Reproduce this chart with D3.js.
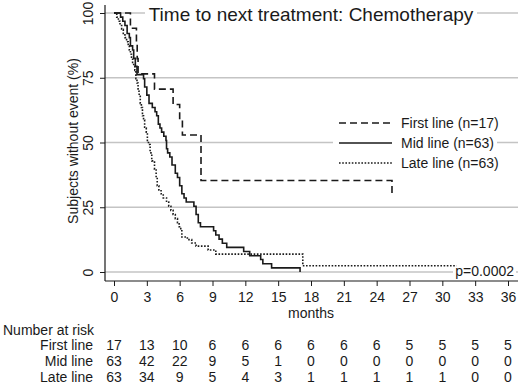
<!DOCTYPE html>
<html>
<head>
<meta charset="utf-8">
<script src="https://cdn.jsdelivr.net/npm/d3@7/dist/d3.min.js"></script>
<style>
  html, body { margin: 0; padding: 0; background: #fff; }
  svg { display: block; font-family: "Liberation Sans", Arial, Helvetica, sans-serif; }
</style>
</head>
<body>
<svg id="chart" width="520" height="385"></svg>
<script>
// ---- data ----
const titleText = "Time to next treatment: Chemotherapy";
const xTicks = [0, 3, 6, 9, 12, 15, 18, 21, 24, 27, 30, 33, 36];
const yTicks = [0, 25, 50, 75, 100];
const seriesNames = ["First line (n=17)", "Mid line (n=63)", "Late line (n=63)"];
const riskLabels = ["First line", "Mid line", "Late line"];
const riskFirst = [17, 13, 10, 6, 6, 6, 6, 6, 6, 5, 5, 5, 5];
const riskMid   = [63, 42, 22, 9, 5, 1, 0, 0, 0, 0, 0, 0, 0];
const riskLate  = [63, 34, 9, 5, 4, 3, 1, 1, 1, 1, 1, 0, 0];
const pValue = "p=0.0002";

// KM steps: [months, % without event]
const firstLine = [[0,100],[1.5,94.1],[2.05,88.2],[2.12,82.4],[2.2,76.5],[3.7,70.6],[5.4,64.7],[6.0,58.8],[6.25,52.9],[7.95,35.3],[25.4,29.4]];
const midLine = [[0,100],[0.6,98.4],[0.8,96.8],[1.0,95.2],[1.2,92.1],[1.4,90.5],[1.5,87.3],[1.7,85.7],[1.8,82.5],[1.95,79.4],[2.1,76.2],
  [2.7,74.6],[2.8,71.4],[3.0,68.3],[3.2,65.1],[3.5,63.5],[3.75,61.9],[3.9,60.3],[4.05,57.1],[4.2,55.6],[4.35,54.0],[4.55,52.4],[4.75,50.8],
  [4.8,47.6],[4.9,46.0],[5.1,44.4],[5.3,41.3],[5.6,38.1],[5.8,36.5],[6.0,33.3],[6.2,30.2],[6.4,28.6],[6.6,27.0],[7.3,25.4],[7.5,22.2],
  [7.7,19.0],[7.9,17.5],[9.1,15.9],[9.3,14.3],[9.6,12.7],[9.9,11.1],[10.3,9.5],[11.85,7.9],[12.4,6.3],[13.4,4.8],[13.6,3.2],[14.4,1.6],[17.0,0]];
const lateLine = [[0,100],[0.25,98.4],[0.4,96.8],[0.55,95.2],[0.7,93.7],[0.85,92.1],[1.0,90.5],[1.15,88.9],[1.3,87.3],[1.4,85.7],[1.5,84.1],
  [1.6,82.5],[1.7,80.9],[1.8,79.4],[1.9,77.8],[2.0,74.6],[2.1,73.0],[2.2,69.8],[2.3,68.3],[2.4,65.1],[2.5,63.5],[2.6,60.3],[2.7,58.7],
  [2.8,55.6],[2.95,54.0],[3.05,50.8],[3.15,49.2],[3.3,46.0],[3.45,42.9],[3.7,39.7],[3.85,36.5],[3.95,33.3],[4.1,31.7],[4.3,30.2],
  [4.5,28.6],[4.8,27.0],[5.0,25.4],[5.2,23.8],[5.4,22.2],[5.6,20.6],[5.8,19.0],[5.95,17.5],[6.1,15.9],[6.2,13.5],[6.7,12.5],[7.1,11.2],
  [7.5,10.0],[8.6,8.5],[9.3,6.9],[17.25,2.4],[31.3,2.4]];

// ---- layout ----
const svg = d3.select("#chart");
const x = d3.scaleLinear().domain([0, 36]).range([114, 508]);
const y = d3.scaleLinear().domain([0, 100]).range([272, 13]);
const axisLeftX = 105, axisBottomY = 281, plotRight = 518;
const ink = "#1a1a1a";

// gridlines
svg.append("g").selectAll("line").data(yTicks).join("line")
  .attr("x1", axisLeftX).attr("x2", plotRight)
  .attr("y1", d => y(d)).attr("y2", d => y(d))
  .attr("stroke", "#c4c4c4").attr("stroke-width", 1.5);

// white boxes (title, legend, p-value)
svg.append("rect").attr("x", 145).attr("y", 2).attr("width", 332).attr("height", 24).attr("fill", "#fff");
svg.append("rect").attr("x", 333).attr("y", 110).attr("width", 164).attr("height", 64).attr("fill", "#fff");
svg.append("rect").attr("x", 453).attr("y", 262).attr("width", 63).attr("height", 18).attr("fill", "#fff");

// axes
const yAxis = d3.axisLeft(y).tickValues(yTicks).tickSize(5).tickPadding(7);
const gy = svg.append("g").attr("transform", `translate(${axisLeftX},0)`).call(yAxis);
gy.select(".domain").attr("d", `M0,5V${axisBottomY}`).attr("stroke", ink).attr("stroke-width", 1.2);
gy.selectAll(".tick line").attr("stroke", ink);
gy.selectAll(".tick text").attr("font-size", 14).attr("fill", ink)
  .attr("transform", "rotate(-90)").attr("text-anchor", "middle")
  .attr("x", 0).attr("y", -12).attr("dy", 0);
gy.selectAll(".tick").each(function(d) {
  d3.select(this).select("text").attr("transform", `rotate(-90)`).attr("x", 0).attr("y", -12);
});

const xAxis = d3.axisBottom(x).tickValues(xTicks).tickSize(5).tickPadding(6);
const gx = svg.append("g").attr("transform", `translate(0,${axisBottomY})`).call(xAxis);
gx.select(".domain").attr("d", `M${axisLeftX},0H${plotRight}`).attr("stroke", ink).attr("stroke-width", 1.2);
gx.selectAll(".tick line").attr("stroke", ink);
gx.selectAll(".tick text").attr("font-size", 14).attr("fill", ink).attr("dy", "0.71em");
gy.attr("font-family", null); gx.attr("font-family", null);

// axis titles
svg.append("text").attr("transform", "translate(78,141) rotate(-90)").attr("text-anchor", "middle")
  .attr("font-size", 14).attr("fill", ink).text("Subjects without event (%)");
svg.append("text").attr("x", 311).attr("y", 318).attr("text-anchor", "middle")
  .attr("font-size", 14).attr("fill", ink).text("months");

// title
svg.append("text").attr("x", 311).attr("y", 21).attr("text-anchor", "middle")
  .attr("font-size", 19).attr("fill", ink).text(titleText);

// curves
const line = d3.line().x(d => x(d[0])).y(d => y(d[1])).curve(d3.curveStepAfter);
const styles = [
  { data: firstLine, dash: "7,4" },
  { data: midLine, dash: null },
  { data: lateLine, dash: "1.6,1.6" }
];
styles.forEach(s => {
  svg.append("path").datum(s.data).attr("d", line)
    .attr("fill", "none").attr("stroke", ink).attr("stroke-width", 1.6)
    .attr("stroke-dasharray", s.dash);
});

// legend
const legY = [123, 143, 163];
seriesNames.forEach((name, i) => {
  svg.append("line").attr("x1", 339).attr("x2", 392).attr("y1", legY[i]).attr("y2", legY[i])
    .attr("stroke", ink).attr("stroke-width", 1.6).attr("stroke-dasharray", styles[i].dash);
  svg.append("text").attr("x", 401).attr("y", legY[i] + 5).attr("font-size", 14).attr("fill", ink).text(name);
});

// p-value
svg.append("text").attr("x", 514).attr("y", 276).attr("text-anchor", "end")
  .attr("font-size", 14).attr("fill", ink).text(pValue);

// risk table
svg.append("text").attr("x", 3).attr("y", 335).attr("font-size", 14).attr("fill", ink).text("Number at risk");
const riskRows = [riskFirst, riskMid, riskLate];
const rowY = [350, 366, 382];
riskRows.forEach((row, i) => {
  svg.append("text").attr("x", 93).attr("y", rowY[i]).attr("text-anchor", "end")
    .attr("font-size", 14).attr("fill", ink).text(riskLabels[i]);
  svg.append("g").selectAll("text").data(row).join("text")
    .attr("x", (d, j) => x(xTicks[j])).attr("y", rowY[i]).attr("text-anchor", "middle")
    .attr("font-size", 14).attr("fill", ink).text(d => d);
});
</script>
</body>
</html>
